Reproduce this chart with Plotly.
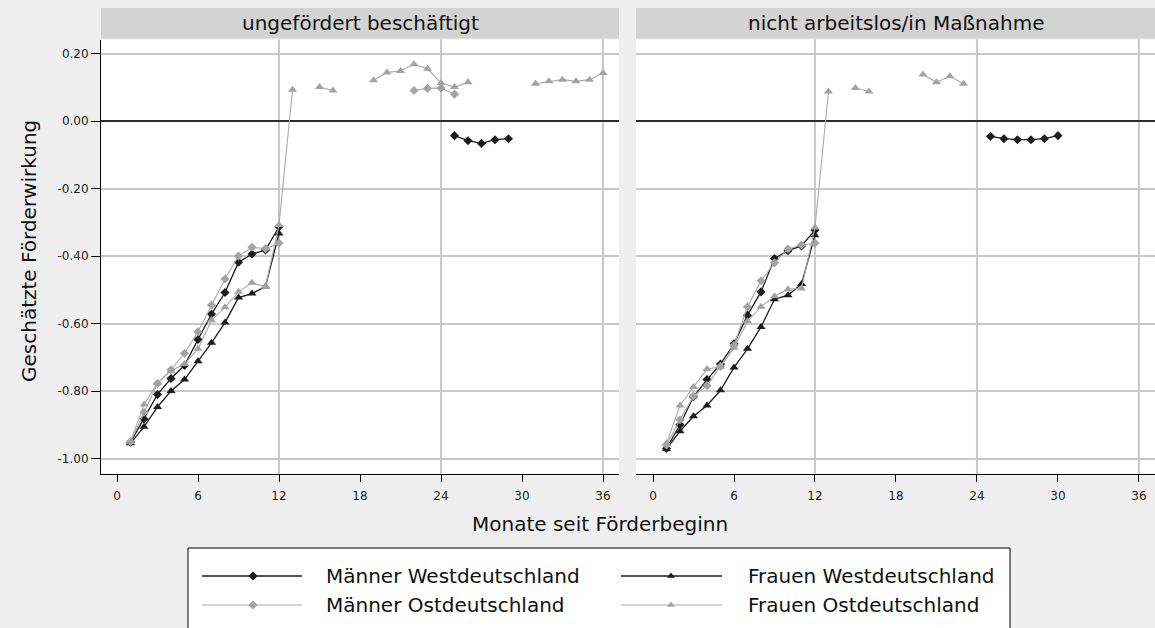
import plotly.graph_objects as go

W, H = 1155, 628

months = list(range(1, 37))

def pad(seg_dict):
    """build 36-month list from {start_month: [values...]}"""
    out = [None] * 36
    for start, vals in seg_dict.items():
        for i, v in enumerate(vals):
            out[start - 1 + i] = v
    return out

panel_titles = ["ungefördert beschäftigt", "nicht arbeitslos/in Maßnahme"]
series_names = ["Männer Westdeutschland", "Frauen Westdeutschland",
                "Männer Ostdeutschland", "Frauen Ostdeutschland"]

# Left panel: ungefördert beschäftigt
mw_left = pad({1: [-0.952, -0.883, -0.81, -0.763, -0.724, -0.647, -0.572, -0.508, -0.418, -0.394, -0.382, -0.313],
               25: [-0.043, -0.058, -0.066, -0.055, -0.052]})
fw_left = pad({1: [-0.955, -0.906, -0.847, -0.80, -0.766, -0.712, -0.657, -0.597, -0.523, -0.511, -0.49, -0.333]})
mo_left = pad({1: [-0.95, -0.863, -0.778, -0.737, -0.688, -0.624, -0.545, -0.468, -0.40, -0.374, -0.378, -0.362],
               22: [0.091, 0.097, 0.098, 0.080]})
fo_left = pad({1: [-0.95, -0.84, -0.776, -0.74, -0.72, -0.675, -0.59, -0.552, -0.506, -0.479, -0.491, -0.308, 0.093],
               15: [0.101, 0.091],
               19: [0.121, 0.144, 0.149, 0.169, 0.155, 0.113, 0.101, 0.115],
               31: [0.111, 0.118, 0.123, 0.118, 0.123, 0.143]})

# Right panel: nicht arbeitslos/in Maßnahme
mw_right = pad({1: [-0.97, -0.90, -0.817, -0.766, -0.72, -0.66, -0.575, -0.506, -0.407, -0.384, -0.37, -0.323],
                25: [-0.045, -0.052, -0.055, -0.055, -0.052, -0.043]})
fw_right = pad({1: [-0.972, -0.919, -0.875, -0.843, -0.798, -0.73, -0.675, -0.61, -0.528, -0.516, -0.483, -0.338]})
mo_right = pad({1: [-0.96, -0.885, -0.815, -0.784, -0.727, -0.665, -0.55, -0.473, -0.42, -0.379, -0.367, -0.362]})
fo_right = pad({1: [-0.955, -0.843, -0.788, -0.735, -0.728, -0.672, -0.593, -0.55, -0.519, -0.498, -0.496, -0.315, 0.088],
                15: [0.098, 0.088],
                20: [0.138, 0.115, 0.133, 0.111]})

x_ticks = [0, 6, 12, 18, 24, 30, 36]
y_ticks = [-1.0, -0.8, -0.6, -0.4, -0.2, 0.0, 0.2]
y_ticktext = ["-1.00", "-0.80", "-0.60", "-0.40", "-0.20", "0.00", "0.20"]
grid_months = [12, 24, 36]

FONT = "DejaVu Sans, Verdana, sans-serif"
BLACK = "#1c1c1c"
GRAY_M = "#a3a3a3"
GRAY_L = "#a9a9a9"
styles = {
    "Männer Westdeutschland": dict(line=dict(color=BLACK, width=1.3), marker=dict(symbol="diamond", size=7, color=BLACK)),
    "Frauen Westdeutschland": dict(line=dict(color=BLACK, width=1.3), marker=dict(symbol="triangle-up", size=8, color=BLACK)),
    "Männer Ostdeutschland": dict(line=dict(color=GRAY_L, width=1.1), marker=dict(symbol="diamond", size=7, color=GRAY_M)),
    "Frauen Ostdeutschland": dict(line=dict(color=GRAY_L, width=1.1), marker=dict(symbol="triangle-up", size=8, color=GRAY_M)),
}

fig = go.Figure()

panels = [
    ("x", "y", [mw_left, fw_left, mo_left, fo_left]),
    ("x2", "y2", [mw_right, fw_right, mo_right, fo_right]),
]
draw_order = [1, 0, 2, 3]
for xa, ya, data in panels:
    for idx in draw_order:
        name = series_names[idx]
        st = styles[name]
        fig.add_trace(go.Scatter(x=months, y=data[idx], mode="lines+markers", name=name,
                                 xaxis=xa, yaxis=ya, line=st["line"], marker=st["marker"],
                                 showlegend=False, connectgaps=False))

def px(x):
    return x / W

def py(y):
    return 1 - y / H

# legend samples on a helper axis (pixel-like coordinates)
leg_rows = [576, 605]
leg_cols = [(202, 253, 302, 324), (621, 671, 722, 746)]
leg_layout = [(0, 0, "Männer Westdeutschland"), (1, 0, "Frauen Westdeutschland"),
              (0, 1, "Männer Ostdeutschland"), (1, 1, "Frauen Ostdeutschland")]
annotations = []
for col, row, name in leg_layout:
    x0, xm, x1, xt = leg_cols[col]
    yy = leg_rows[row]
    st = styles[name]
    fig.add_trace(go.Scatter(x=[x0, x1], y=[yy, yy], mode="lines",
                             xaxis="x3", yaxis="y3", line=st["line"],
                             showlegend=False, hoverinfo="skip"))
    mk = dict(st["marker"])
    mk["size"] = 7
    fig.add_trace(go.Scatter(x=[xm], y=[yy], mode="markers",
                             xaxis="x3", yaxis="y3", marker=mk,
                             showlegend=False, hoverinfo="skip"))
    annotations.append(dict(x=px(xt), y=py(yy), xref="paper", yref="paper", text=name,
                            showarrow=False, xanchor="left", yanchor="middle",
                            font=dict(family=FONT, size=20, color="#111111")))

L_DOM = [101 / W, 619 / W]
R_DOM = [636 / W, 1.0]
Y_DOM = [1 - 473.7 / H, 1 - 39.5 / H]

axis_font = dict(family=FONT, size=12, color="#222222")

common_x = dict(tickmode="array", tickvals=x_ticks, ticks="outside", ticklen=7, tickcolor="black",
                tickwidth=1, showline=True, linecolor="black", linewidth=1, showgrid=False,
                zeroline=False, tickfont=axis_font, ticklabelstandoff=4)
common_y = dict(range=[-1.045, 0.242], tickmode="array", tickvals=y_ticks, ticktext=y_ticktext,
                showgrid=True, gridcolor="#c9c9c9", gridwidth=2, zeroline=True,
                zerolinecolor="#2b2b2b", zerolinewidth=2, tickfont=axis_font, domain=Y_DOM)

shapes = []
# vertical grid lines
for xr in ["x", "x2"]:
    for m in grid_months:
        shapes.append(dict(type="line", xref=xr, yref="paper", x0=m, x1=m, y0=Y_DOM[0], y1=Y_DOM[1],
                           line=dict(color="#c9c9c9", width=2), layer="below"))
# strip headers
for dom, title in [(L_DOM, panel_titles[0]), (R_DOM, panel_titles[1])]:
    shapes.append(dict(type="rect", xref="paper", yref="paper", x0=dom[0], x1=dom[1],
                       y0=py(38.5), y1=py(8), fillcolor="#d3d3d3", line=dict(width=0), layer="below"))
    annotations.append(dict(x=(dom[0] + dom[1]) / 2, y=py(23), xref="paper", yref="paper", text=title,
                            showarrow=False, xanchor="center", yanchor="middle",
                            font=dict(family=FONT, size=20, color="#111111")))
# legend box border (bottom cut off by figure edge)
for (xa, ya, xb, yb) in [(188, 548, 188, 640), (188, 548, 1010, 548), (1010, 548, 1010, 640)]:
    shapes.append(dict(type="line", xref="paper", yref="paper", x0=px(xa), y0=py(ya), x1=px(xb), y1=py(yb),
                       line=dict(color="black", width=1)))

# axis titles
annotations.append(dict(x=px(29), y=py(251), xref="paper", yref="paper", text="Geschätzte Förderwirkung",
                        textangle=-90, showarrow=False, xanchor="center", yanchor="middle",
                        font=dict(family=FONT, size=20, color="#111111")))
annotations.append(dict(x=px(600), y=py(524), xref="paper", yref="paper", text="Monate seit Förderbeginn",
                        showarrow=False, xanchor="center", yanchor="middle",
                        font=dict(family=FONT, size=20, color="#111111")))

fig.update_layout(
    width=W, height=H, autosize=False,
    margin=dict(l=0, r=0, t=0, b=0),
    paper_bgcolor="#efefef", plot_bgcolor="white",
    font=dict(family=FONT, color="#111111"),
    xaxis=dict(common_x, domain=L_DOM, range=[-1.185, 37.185], anchor="y"),
    xaxis2=dict(common_x, domain=R_DOM, range=[-1.26, 37.19], anchor="y2"),
    yaxis=dict(common_y, anchor="x", showline=True, linecolor="black", linewidth=1,
               ticks="outside", ticklen=9, tickcolor="black"),
    yaxis2=dict(common_y, anchor="x2", showline=False, ticks="", showticklabels=False),
    xaxis3=dict(domain=[188 / W, 1010 / W], range=[188, 1010], visible=False, anchor="y3", fixedrange=True),
    yaxis3=dict(domain=[0, 1 - 548 / H], range=[628, 548], visible=False, anchor="x3", fixedrange=True),
    shapes=shapes, annotations=annotations, showlegend=False,
)

fig.write_html("out.html", config={"displayModeBar": False},
               post_script="document.body.style.margin='0';document.body.style.overflow='hidden';"
                           "document.body.style.background='#efefef';")
